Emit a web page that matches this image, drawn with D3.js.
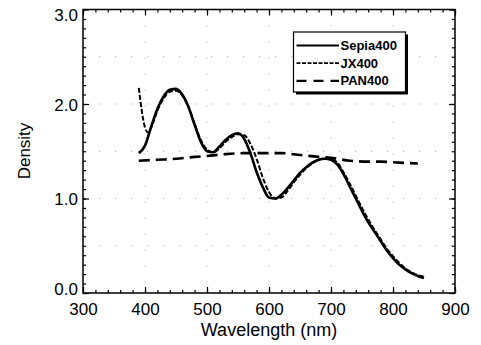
<!DOCTYPE html>
<html><head><meta charset="utf-8">
<script src="https://cdn.jsdelivr.net/npm/d3@7"></script>
<style>
html,body{margin:0;padding:0;background:#fff;}
svg{display:block;font-family:"Liberation Sans",Arial,Helvetica,sans-serif;}
</style></head>
<body><svg id="c" width="481" height="345"></svg>
<script>
// ---- data ----
const seriesNames = ["Sepia400", "JX400", "PAN400"];
const sepiaWl = [390,400,410,420,430,440,450,460,470,480,490,500,510,520,530,540,550,560,570,580,590,600,610,620,630,640,650,660,670,680,690,700,710,720,730,740,750,760,770,780,790,800,810,820,830,840,850];
const sepiaD  = [1.48,1.56,1.76,1.95,2.08,2.15,2.16,2.10,1.97,1.78,1.60,1.50,1.49,1.55,1.62,1.67,1.69,1.63,1.48,1.28,1.12,1.01,1.00,1.04,1.11,1.19,1.27,1.33,1.38,1.41,1.42,1.41,1.36,1.26,1.13,1.00,0.87,0.75,0.65,0.55,0.45,0.37,0.30,0.25,0.21,0.18,0.16];
const jxWl = [390,395,400,405,410,420,430,440,450,460,470,480,490,500,510,520,530,540,550,560,570,580,590,600,610,620,630,640,650,660,670,680,690,700,710,720,730,740,750,760,770,780,790,800,810,820,830,840,852];
const jxD  = [2.17,1.92,1.75,1.70,1.75,1.93,2.06,2.13,2.14,2.09,1.97,1.79,1.62,1.52,1.49,1.53,1.60,1.65,1.68,1.67,1.58,1.42,1.22,1.07,1.00,1.01,1.08,1.17,1.25,1.32,1.37,1.41,1.42,1.42,1.38,1.28,1.16,1.03,0.90,0.78,0.67,0.57,0.47,0.39,0.32,0.26,0.22,0.19,0.17];
const panWl = [390,420,450,480,500,530,560,600,620,650,680,700,730,760,780,810,840];
const panD  = [1.40,1.41,1.42,1.44,1.45,1.47,1.48,1.48,1.48,1.46,1.44,1.43,1.40,1.39,1.39,1.38,1.37];
const xTicks = [300,400,500,600,700,800,900];
const yTicks = [0.0,1.0,2.0,3.0];
const xLabel = "Wavelength (nm)";
const yLabel = "Density";

// ---- layout ----
const svg = d3.select("#c");
const L = 83, R = 455, T = 9.5, B = 293;
const x = d3.scaleLinear().domain([300,900]).range([L,R]);
const y = d3.scaleLinear().domain([0,3]).range([B,T]);

// grid (sparse dotted)
const g = svg.append("g").attr("stroke","#aaa").attr("stroke-width",1).attr("stroke-dasharray","1,15");
d3.range(400,900,100).forEach(v=>g.append("line").attr("x1",x(v)).attr("x2",x(v)).attr("y1",T).attr("y2",B));
d3.range(0.5,3,0.5).forEach(v=>g.append("line").attr("x1",L).attr("x2",R).attr("y1",y(v)).attr("y2",y(v)));

// inward ticks on all four sides
const xMinor = d3.range(300,901,20);
const yMinor = d3.range(0,3.001,0.1).map(v=>+v.toFixed(1));
function ticks(axisFn, scale, tr, vals, size){
  svg.append("g").attr("transform",tr)
    .call(axisFn(scale).tickValues(vals).tickSize(size).tickSizeOuter(0).tickFormat(""));
}
ticks(d3.axisTop, x, `translate(0,${B})`, xTicks, 6);
ticks(d3.axisTop, x, `translate(0,${B})`, xMinor, 3);
ticks(d3.axisBottom, x, `translate(0,${T})`, xTicks, 6);
ticks(d3.axisBottom, x, `translate(0,${T})`, xMinor, 3);
ticks(d3.axisRight, y, `translate(${L},0)`, yTicks, 6);
ticks(d3.axisRight, y, `translate(${L},0)`, yMinor, 3);
ticks(d3.axisLeft, y, `translate(${R},0)`, yTicks, 6);
ticks(d3.axisLeft, y, `translate(${R},0)`, yMinor, 3);
svg.selectAll(".domain").remove();
svg.selectAll(".tick line").attr("stroke","#000").attr("stroke-width",1.2);

// tick labels via axes
const xl = svg.append("g").attr("transform",`translate(0,${B})`)
  .call(d3.axisBottom(x).tickValues(xTicks).tickSize(0).tickPadding(10).tickFormat(d3.format("d")));
xl.select(".domain").remove();
xl.selectAll("text").attr("font-size",17).attr("fill","#000").attr("font-family","Liberation Sans, Arial, sans-serif");
const yl = svg.append("g").attr("transform",`translate(${L},0)`)
  .call(d3.axisLeft(y).tickValues(yTicks).tickSize(0).tickPadding(5).tickFormat(d3.format(".1f")));
yl.select(".domain").remove();
yl.selectAll("text").attr("font-size",17).attr("fill","#000").attr("font-family","Liberation Sans, Arial, sans-serif")
  .attr("dy", d => d === 3 ? "0.62em" : d === 0 ? "0.08em" : "0.36em");

// frame
svg.append("rect").attr("x",L).attr("y",T).attr("width",R-L).attr("height",B-T)
  .attr("fill","none").attr("stroke","#000").attr("stroke-width",1.5);

// series
const line = d3.line().x(d=>x(d[0])).y(d=>y(d[1])).curve(d3.curveMonotoneX);
const styles = [
  {dash:null, w:2.6},
  {dash:"5,2", w:2.0},
  {dash:"11,6", w:2.6}
];
const data = [
  sepiaWl.map((w,i)=>[w,sepiaD[i]]),
  jxWl.map((w,i)=>[w,jxD[i]]),
  panWl.map((w,i)=>[w,panD[i]])
];
const plot = svg.append("g");
[2,1,0].forEach(i=>{
  plot.append("path").datum(data[i]).attr("d",line).attr("fill","none")
    .attr("stroke","#000").attr("stroke-width",styles[i].w)
    .attr("stroke-dasharray",styles[i].dash).attr("stroke-linejoin","round");
});

// axis titles
svg.append("text").attr("x",(L+R)/2).attr("y",336).attr("text-anchor","middle")
  .attr("font-size",18).attr("fill","#000").text(xLabel);
svg.append("text").attr("transform",`translate(30,151) rotate(-90)`).attr("text-anchor","middle")
  .attr("font-size",17).attr("fill","#000").text(yLabel);

// legend
const lg = svg.append("g").attr("transform","translate(293.5,32)");
lg.append("rect").attr("x",2.5).attr("y",2.5).attr("width",112).attr("height",60).attr("fill","#000");
lg.append("rect").attr("x",0).attr("y",0).attr("width",112).attr("height",60).attr("fill","#fff").attr("stroke","#000").attr("stroke-width",1.2);
seriesNames.forEach((n,i)=>{
  const yy = 13.5 + i*17.7;
  lg.append("line").attr("x1",3).attr("x2",45.5).attr("y1",yy).attr("y2",yy)
    .attr("stroke","#000").attr("stroke-width",i===1?1.8:2.2).attr("stroke-dasharray",i===1?"4,1.5":(i===2?"10,7":null));
  lg.append("text").attr("x",47).attr("y",yy).attr("dy","0.35em").attr("font-size",13).attr("font-weight","bold").text(n);
});
</script></body></html>
